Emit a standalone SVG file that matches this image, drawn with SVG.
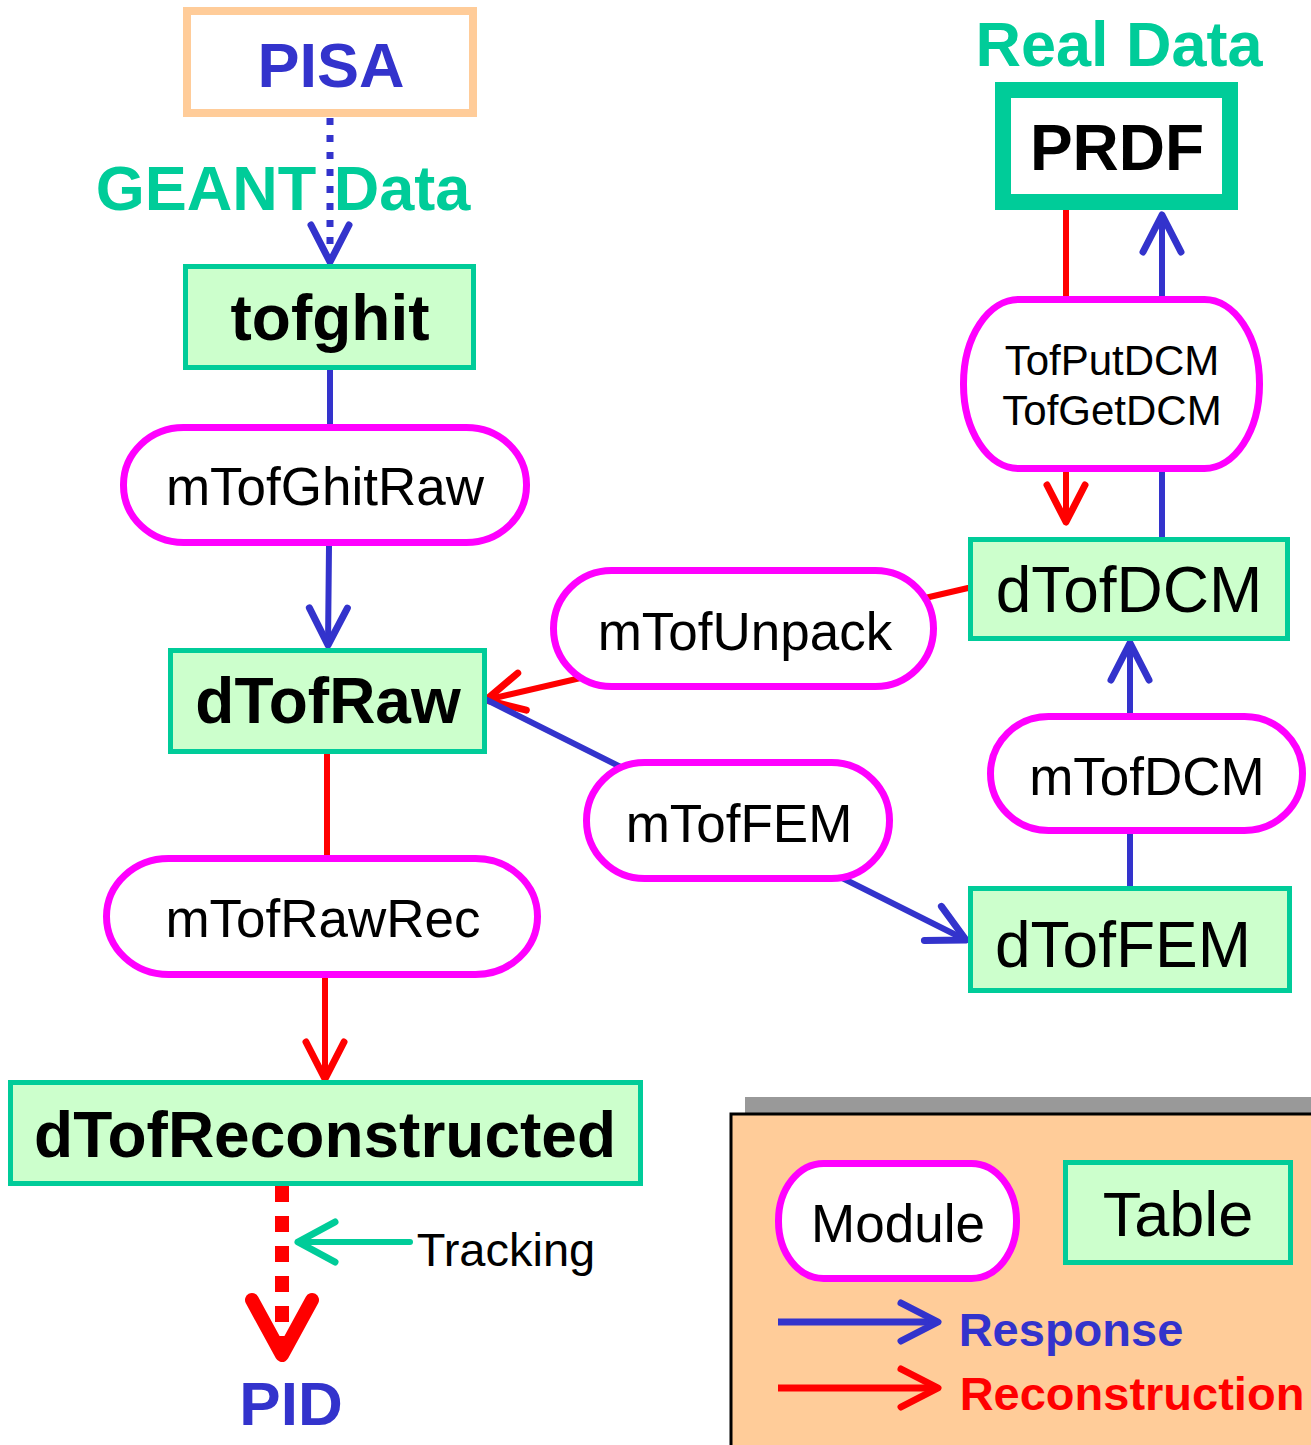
<svg xmlns="http://www.w3.org/2000/svg" width="1311" height="1445" viewBox="0 0 1311 1445">
<style>
.table{fill:#CCFFCC;stroke:#00CC99;stroke-width:5}
.module{fill:#FFFFFF;stroke:#FF00FF;stroke-width:7}
.t{font-family:"Liberation Sans",Arial,sans-serif;text-anchor:middle;fill:#000}
.b{font-weight:bold}
.blue{stroke:#3333CC;stroke-width:6;fill:none;stroke-linecap:round}
.red{stroke:#FF0000;stroke-width:6;fill:none;stroke-linecap:round}
.green{stroke:#00CC99;stroke-width:6;fill:none;stroke-linecap:round}
</style>
<defs>
<marker id="ab" markerUnits="userSpaceOnUse" orient="auto" overflow="visible" refX="0" refY="0" markerWidth="10" markerHeight="10">
<path d="M -37 -19 L 0 0 L -37 19" fill="none" stroke="#3333CC" stroke-width="7" stroke-linecap="round" stroke-linejoin="round"/>
</marker>
<marker id="ar" markerUnits="userSpaceOnUse" orient="auto" overflow="visible" refX="0" refY="0" markerWidth="10" markerHeight="10">
<path d="M -37 -19 L 0 0 L -37 19" fill="none" stroke="#FF0000" stroke-width="7" stroke-linecap="round" stroke-linejoin="round"/>
</marker>
<marker id="ag" markerUnits="userSpaceOnUse" orient="auto" overflow="visible" refX="0" refY="0" markerWidth="10" markerHeight="10">
<path d="M -37 -20 L 0 0 L -37 20" fill="none" stroke="#00CC99" stroke-width="7" stroke-linecap="round" stroke-linejoin="round"/>
</marker>
</defs>
<rect width="1311" height="1445" fill="#FFFFFF"/>

<g id="connectors">
<line x1="330" y1="118" x2="330" y2="262" stroke="#3333CC" stroke-width="7" stroke-dasharray="7 10" marker-end="url(#ab)"/>
<line class="blue" x1="330" y1="370" x2="330" y2="426"/>
<line class="blue" x1="329" y1="546" x2="328" y2="645" marker-end="url(#ab)"/>
<line class="red" x1="327" y1="754" x2="327" y2="857"/>
<line class="red" x1="325" y1="978" x2="325" y2="1079" marker-end="url(#ar)"/>
<line x1="282" y1="1186" x2="282" y2="1345" stroke="#FF0000" stroke-width="14" stroke-dasharray="16 14"/>
<polyline points="252,1300 282,1355 312,1300" fill="none" stroke="#FF0000" stroke-width="14" stroke-linecap="round" stroke-linejoin="round"/>
<line class="green" x1="410" y1="1242" x2="298" y2="1242" stroke-linecap="butt" marker-end="url(#ag)"/>
<line class="red" x1="1066" y1="210" x2="1066" y2="298"/>
<line class="red" x1="1066" y1="470" x2="1066" y2="522" marker-end="url(#ar)"/>
<line class="blue" x1="1162" y1="537" x2="1162" y2="470"/>
<line class="blue" x1="1162" y1="298" x2="1162" y2="215" marker-end="url(#ab)"/>
<line class="red" x1="968" y1="588" x2="486" y2="700" marker-end="url(#ar)"/>
<line class="blue" x1="487" y1="700" x2="966" y2="940" marker-end="url(#ab)"/>
<line class="blue" x1="1130" y1="715" x2="1130" y2="643" marker-end="url(#ab)"/>
<line class="blue" x1="1130" y1="886" x2="1130" y2="832"/>
</g>

<g id="pisa">
<rect x="187" y="11" width="286" height="102" fill="#FFFFFF" stroke="#FFCC99" stroke-width="8"/>
<text class="t b" x="331" y="87" font-size="63" fill="#3333CC" style="fill:#3333CC">PISA</text>
</g>
<g id="geant-label">
<text class="t b" x="283" y="210" font-size="63" style="fill:#00CC99">GEANT Data</text>
</g>
<g id="tofghit">
<rect class="table" x="185.5" y="266.5" width="288" height="101"/>
<text class="t b" x="330" y="340" font-size="64">tofghit</text>
</g>
<g id="mTofGhitRaw">
<rect class="module" x="123.5" y="427.5" width="403" height="115" rx="60" ry="57"/>
<text class="t" x="325" y="505" font-size="53">mTofGhitRaw</text>
</g>
<g id="dTofRaw">
<rect class="table" x="170.5" y="650.5" width="314" height="101"/>
<text class="t b" x="328" y="723" font-size="64">dTofRaw</text>
</g>
<g id="mTofRawRec">
<rect class="module" x="106.5" y="858.5" width="431" height="116" rx="62" ry="58"/>
<text class="t" x="323" y="937" font-size="53">mTofRawRec</text>
</g>
<g id="dTofReconstructed">
<rect class="table" x="10.5" y="1082.5" width="630" height="101"/>
<text class="t b" x="325" y="1157" font-size="64">dTofReconstructed</text>
</g>
<g id="tracking-label">
<text class="t" x="506" y="1266" font-size="47">Tracking</text>
</g>
<g id="pid">
<text class="t b" x="291" y="1425" font-size="62" style="fill:#3333CC">PID</text>
</g>

<g id="real-data-label">
<text class="t b" x="1119" y="66" font-size="63" style="fill:#00CC99">Real Data</text>
</g>
<g id="prdf">
<rect x="1003" y="90" width="227" height="112" fill="#FFFFFF" stroke="#00CC99" stroke-width="16"/>
<text class="t b" x="1117" y="170" font-size="64">PRDF</text>
</g>
<g id="TofPutGetDCM">
<rect class="module" x="963.5" y="299.5" width="296" height="169" rx="55" ry="84"/>
<text class="t" x="1112" y="375" font-size="42">TofPutDCM</text>
<text class="t" x="1112" y="425" font-size="42">TofGetDCM</text>
</g>
<g id="dTofDCM">
<rect class="table" x="970.5" y="539.5" width="317" height="99"/>
<text class="t" x="1129" y="612" font-size="64">dTofDCM</text>
</g>
<g id="mTofUnpack">
<rect class="module" x="553.5" y="570.5" width="380" height="116" rx="58" ry="58"/>
<text class="t" x="745" y="650" font-size="53">mTofUnpack</text>
</g>
<g id="mTofFEM">
<rect class="module" x="586.5" y="762.5" width="303" height="116" rx="58" ry="58"/>
<text class="t" x="739" y="842" font-size="53">mTofFEM</text>
</g>
<g id="mTofDCM">
<rect class="module" x="990.5" y="716.5" width="312" height="114" rx="58" ry="57"/>
<text class="t" x="1147" y="795" font-size="53">mTofDCM</text>
</g>
<g id="dTofFEM">
<rect class="table" x="970.5" y="888.5" width="319" height="102"/>
<text class="t" x="1123" y="967" font-size="64">dTofFEM</text>
</g>

<g id="legend">
<rect x="745" y="1097" width="600" height="360" fill="#999999"/>
<rect x="731" y="1114" width="600" height="360" fill="#FFCC99" stroke="#000000" stroke-width="3"/>
<rect class="module" x="778.5" y="1163.5" width="238" height="115" rx="45" ry="57"/>
<text class="t" x="898" y="1242" font-size="53">Module</text>
<rect class="table" x="1065.5" y="1162.5" width="225" height="100"/>
<text class="t" x="1178" y="1236" font-size="63">Table</text>
<line x1="778" y1="1322" x2="938" y2="1322" stroke="#3333CC" stroke-width="7" marker-end="url(#ab)"/>
<text class="t b" x="1071" y="1346" font-size="47" style="fill:#3333CC">Response</text>
<line x1="778" y1="1388" x2="938" y2="1388" stroke="#FF0000" stroke-width="7" marker-end="url(#ar)"/>
<text class="t b" x="1132" y="1410" font-size="47" style="fill:#FF0000">Reconstruction</text>
</g>
</svg>
